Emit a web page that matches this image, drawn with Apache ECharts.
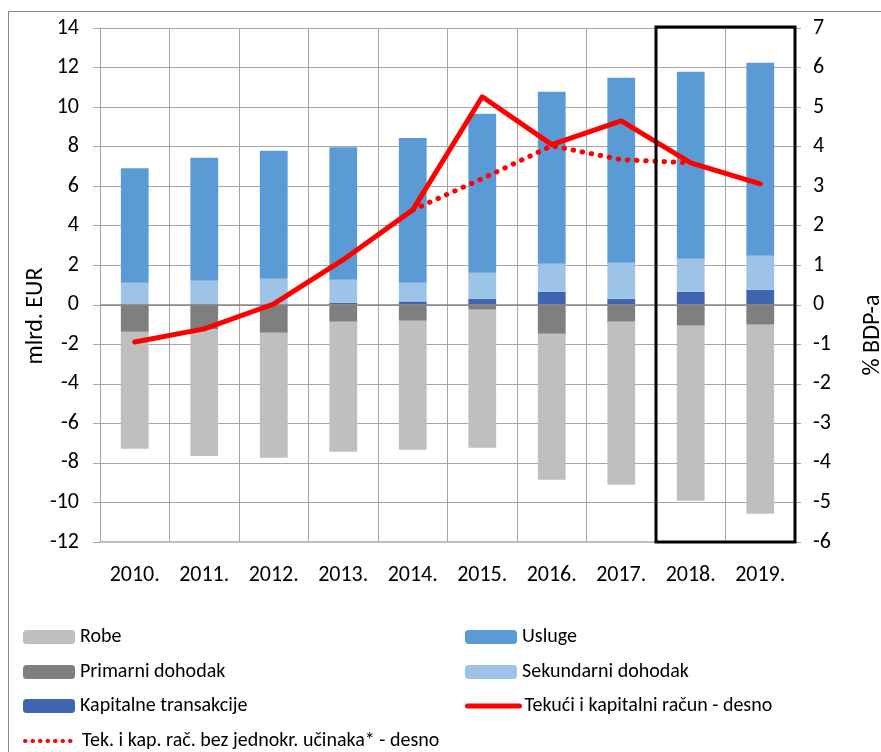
<!DOCTYPE html>
<html>
<head>
<meta charset="utf-8">
<script src="https://cdn.jsdelivr.net/npm/echarts@6/dist/echarts.min.js"></script>
<style>html,body{margin:0;padding:0;background:#fff;overflow:hidden}#c{width:881px;height:752px}</style>
</head>
<body>
<div id="c"></div>
<script>
var years = ['2010.', '2011.', '2012.', '2013.', '2014.', '2015.', '2016.', '2017.', '2018.', '2019.'];
var robe = [-5.91, -6.42, -6.32, -6.58, -6.52, -6.98, -7.38, -8.24, -8.85, -9.56];
var primarni = [-1.37, -1.23, -1.42, -0.86, -0.81, -0.25, -1.47, -0.86, -1.06, -1.01];
var kapitalne = [0.02, 0.03, 0.02, 0.10, 0.17, 0.30, 0.66, 0.30, 0.66, 0.76];
var sekundarni = [1.10, 1.18, 1.29, 1.16, 0.94, 1.32, 1.41, 1.82, 1.67, 1.72];
var usluge = [5.79, 6.23, 6.48, 6.71, 7.32, 8.04, 8.70, 9.36, 9.46, 9.76];
var tekuci = [-0.94, -0.61, 0.02, 1.14, 2.40, 5.26, 4.05, 4.65, 3.59, 3.06];
var bezJednokr = [null, null, null, null, 2.40, 3.19, 4.02, 3.67, 3.59, null];
var leftTicks = {min: -12, max: 14, interval: 2};
var rightTicks = {min: -6, max: 7, interval: 1};

var FONT = 'Carlito, "Liberation Sans", Arial, sans-serif';
var chart = echarts.init(document.getElementById('c'), null, {renderer: 'canvas', width: 881, height: 752});

function leg(name, left, top, extra) {
  var l = {
    data: [name], left: left, top: top, padding: 0, itemWidth: 52, itemHeight: 14, itemGap: 5,
    textStyle: {fontFamily: FONT, fontSize: 20, color: '#000'}, selectedMode: false
  };
  if (extra) { for (var k in extra) l[k] = extra[k]; }
  return l;
}

var option = {
  animation: false,
  textStyle: {fontFamily: FONT},
  grid: {left: 100, right: 86, top: 28, bottom: 210, containLabel: false, outerBoundsMode: 'none'},
  legend: [
    leg('Robe', 23, 627),
    leg('Usluge', 465, 627),
    leg('Primarni dohodak', 23, 662),
    leg('Sekundarni dohodak', 465, 662),
    leg('Kapitalne transakcije', 23, 696),
    leg('Tekući i kapitalni račun - desno', 465, 696,
        {itemStyle: {opacity: 0}, lineStyle: {width: 5, color: '#ff0000', cap: 'round'}}),
    leg('Tek. i kap. rač. bez jednokr. učinaka* - desno', 23, 731,
        {itemStyle: {opacity: 0}, lineStyle: {width: 4, color: '#ff0000', type: [0.5, 7], cap: 'round'}})
  ],
  xAxis: {
    type: 'category', data: years,
    axisLine: {show: true, onZero: false, lineStyle: {color: '#bfbfbf', width: 2}},
    axisTick: {show: false},
    axisLabel: {margin: 22, fontSize: 22, color: '#000', fontFamily: FONT, interval: 0},
    splitLine: {show: true, interval: 0, lineStyle: {color: '#a6a6a6', width: 1}}
  },
  yAxis: [{
    type: 'value', min: leftTicks.min, max: leftTicks.max, interval: leftTicks.interval,
    name: 'mlrd. EUR', nameLocation: 'middle', nameGap: 52, nameRotate: 90, nameMoveOverlap: false,
    nameTextStyle: {fontSize: 24, color: '#000', fontFamily: FONT, padding: [0, 62, 0, 0]},
    axisLine: {show: true, lineStyle: {color: '#a6a6a6'}},
    axisTick: {show: true, length: 7, lineStyle: {color: '#a6a6a6'}},
    axisLabel: {fontSize: 22, color: '#000', margin: 21, fontFamily: FONT},
    splitLine: {show: true, lineStyle: {color: '#a6a6a6', width: 1}}
  }, {
    type: 'value', position: 'right', min: rightTicks.min, max: rightTicks.max, interval: rightTicks.interval,
    name: '% BDP-a', nameLocation: 'middle', nameGap: 66, nameRotate: 90,
    nameTextStyle: {fontSize: 24, color: '#000', fontFamily: FONT, padding: [0, 100, 0, 0]},
    axisLine: {show: true, lineStyle: {color: '#a6a6a6'}},
    axisTick: {show: true, length: 6, lineStyle: {color: '#a6a6a6'}},
    axisLabel: {fontSize: 22, color: '#000', margin: 18, fontFamily: FONT},
    splitLine: {show: false}
  }],
  series: [
    {name: 'Kapitalne transakcije', type: 'bar', stack: 's', data: kapitalne, barWidth: '40%',
     itemStyle: {color: '#3f65ae'}, legendIcon: 'rect',
     markLine: {silent: true, symbol: 'none', label: {show: false},
       lineStyle: {color: '#868686', width: 1.5, type: 'solid'}, data: [{yAxis: 0}]}},
    {name: 'Sekundarni dohodak', type: 'bar', stack: 's', data: sekundarni, itemStyle: {color: '#9dc3e6'}, legendIcon: 'rect'},
    {name: 'Usluge', type: 'bar', stack: 's', data: usluge, itemStyle: {color: '#5b9bd5'}, legendIcon: 'rect'},
    {name: 'Primarni dohodak', type: 'bar', stack: 's', data: primarni, itemStyle: {color: '#7f7f7f'}, legendIcon: 'rect'},
    {name: 'Robe', type: 'bar', stack: 's', data: robe, itemStyle: {color: '#bfbfbf'}, legendIcon: 'rect'},
    {name: 'Tekući i kapitalni račun - desno', type: 'line', yAxisIndex: 1, data: tekuci, symbol: 'none', z: 10,
     itemStyle: {color: '#ff0000'}, lineStyle: {color: '#ff0000', width: 5, cap: 'round', join: 'round'}},
    {name: 'Tek. i kap. rač. bez jednokr. učinaka* - desno', type: 'line', yAxisIndex: 1, data: bezJednokr, symbol: 'none', z: 9,
     itemStyle: {color: '#ff0000'}, lineStyle: {color: '#ff0000', width: 5, type: [0.5, 8.7], cap: 'round'}}
  ]
};
chart.setOption(option);

var c18 = chart.convertToPixel({xAxisIndex: 0}, '2018.');
var c19 = chart.convertToPixel({xAxisIndex: 0}, '2019.');
var band = c19 - c18;
var yTop = chart.convertToPixel({yAxisIndex: 0}, leftTicks.max);
var yBot = chart.convertToPixel({yAxisIndex: 0}, leftTicks.min);
chart.setOption({
  graphic: [
    {type: 'rect', silent: true, z: 0, shape: {x: 8.5, y: 11.5, width: 900, height: 800},
     style: {fill: 'none', stroke: '#868686', lineWidth: 1}},
    {type: 'rect', silent: true, z: 100,
     shape: {x: c18 - band / 2, y: yTop - 1, width: band * 2, height: yBot - yTop + 1},
     style: {fill: 'none', stroke: '#000', lineWidth: 3}}
  ]
});
</script>
</body>
</html>
